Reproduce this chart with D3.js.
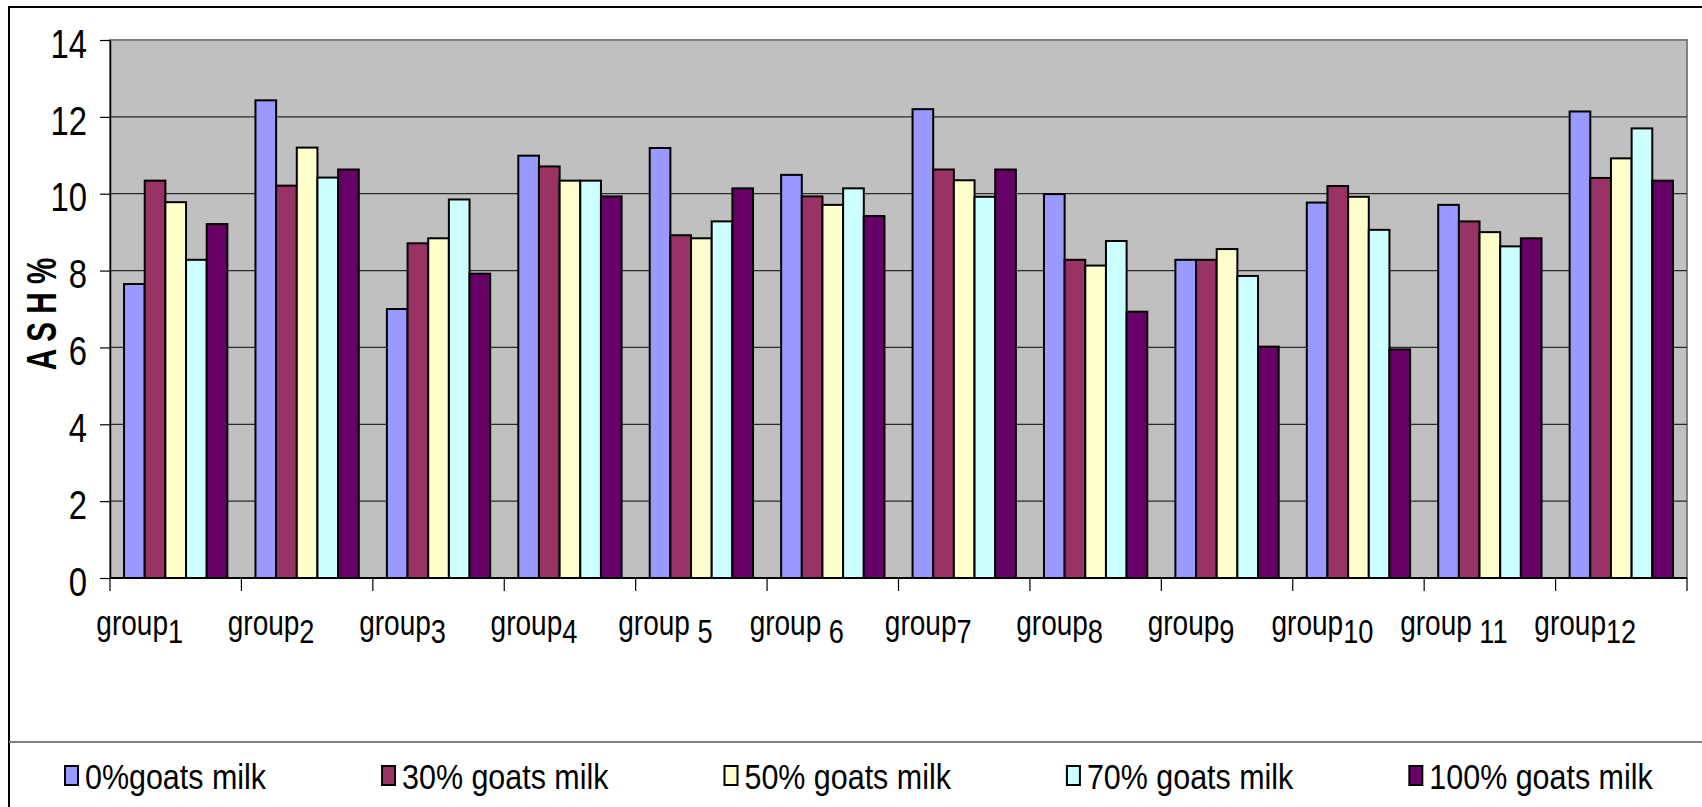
<!DOCTYPE html>
<html>
<head>
<meta charset="utf-8">
<script src="https://cdn.jsdelivr.net/npm/d3@7"></script>
<style>
  body { margin: 0; background: #fff; }
  text { font-family: "Liberation Sans", Arial, sans-serif; fill: #000; white-space: pre; }
</style>
</head>
<body>
<svg id="chart" width="1702" height="807"></svg>
<script>
// ash % by group and goats milk share

var xLabels = ["group1", "group2", "group3", "group4", "group 5", "group 6",
  "group7", "group8", "group9", "group10", "group 11", "group12"]
var series = ["0%goats milk", "30% goats milk", "50% goats milk", "70% goats milk", "100% goats milk"]
var yTicks = [0, 2, 4, 6, 8, 10, 12, 14]

var milk0 = [7.65, 12.43, 7.0, 10.99, 11.19, 10.49, 12.2, 9.99, 8.28, 9.77, 9.71, 12.14]
var milk30 = [10.34, 10.21, 8.71, 10.71, 8.92, 9.93, 10.63, 8.28, 8.28, 10.2, 9.28, 10.41]
var milk50 = [9.78, 11.2, 8.84, 10.34, 8.84, 9.71, 10.35, 8.13, 8.56, 9.92, 9.0, 10.92]
var milk70 = [8.28, 10.42, 9.85, 10.34, 9.28, 10.14, 9.92, 8.77, 7.86, 9.06, 8.63, 11.7]
var milk100 = [9.21, 10.63, 7.92, 9.93, 10.14, 9.42, 10.63, 6.93, 6.02, 5.95, 8.84, 10.34]

var values = [milk0, milk30, milk50, milk70, milk100]
var colors = ["#9999ff", "#993366", "#ffffcc", "#ccffff", "#660066"]

// narrow look of the original text
var sx = 0.8
var legendSx = 0.87

var plot = { left: 110, right: 1687, top: 40, bottom: 578 }

var svg = d3.select("#chart")

// outer frame and legend separator
svg.append("rect")
  .attr("x", 9).attr("y", 7)
  .attr("width", 1710).attr("height", 820)
  .attr("fill", "#fff").attr("stroke", "#000").attr("stroke-width", 2)

svg.append("line")
  .attr("x1", 9).attr("x2", 1702)
  .attr("y1", 742).attr("y2", 742)
  .attr("stroke", "#808080").attr("stroke-width", 2)

var x0 = d3.scaleBand()
  .domain(xLabels)
  .range([plot.left, plot.right])

var x1 = d3.scaleBand()
  .domain(d3.range(series.length))
  .range([0, x0.bandwidth()])
  .paddingOuter(0.68)

var y = d3.scaleLinear().domain([0, 14]).range([plot.bottom, plot.top])

var color = d3.scaleOrdinal().domain(d3.range(series.length)).range(colors)

// plot area
svg.append("rect")
  .attr("x", plot.left).attr("y", plot.top)
  .attr("width", plot.right - plot.left).attr("height", plot.bottom - plot.top)
  .attr("fill", "#c0c0c0").attr("stroke", "#808080").attr("stroke-width", 2)

svg.append("g").selectAll("line")
  .data(yTicks.filter(function(d) { return d > 0 && d < 14 }))
  .enter().append("line")
  .attr("x1", plot.left).attr("x2", plot.right)
  .attr("y1", function(d) { return y(d) }).attr("y2", function(d) { return y(d) })
  .attr("stroke", "#2a2a2a").attr("stroke-width", 1.2)

// bars
var groupG = svg.append("g").selectAll("g")
  .data(xLabels)
  .enter().append("g")
  .attr("transform", function(d) { return "translate(" + x0(d) + ",0)" })

groupG.selectAll("rect")
  .data(function(d, gi) {
    return values.map(function(s, si) { return { s: si, v: s[gi] } })
  })
  .enter().append("rect")
  .attr("x", function(d) { return x1(d.s) })
  .attr("width", x1.bandwidth())
  .attr("y", function(d) { return y(d.v) })
  .attr("height", function(d) { return y(0) - y(d.v) })
  .attr("fill", function(d) { return color(d.s) })
  .attr("stroke", "#000")
  .attr("stroke-width", 2)

// y axis
var yAxis = d3.axisLeft(y).tickValues(yTicks).tickSize(10).tickSizeOuter(0)
var yG = svg.append("g")
  .attr("transform", "translate(" + plot.left + ",0)")
  .call(yAxis)
yG.select(".domain").attr("stroke", "#000").attr("stroke-width", 1.5)
yG.selectAll(".tick line").attr("stroke", "#000").attr("stroke-width", 1.2)
yG.selectAll(".tick text")
  .attr("font-family", null)
  .attr("font-size", 41)
  .attr("fill", "#000")
  .attr("x", -23 / sx)
  .attr("dy", "0.42em")
  .attr("transform", "scale(" + sx + ",1)")

// x axis line and ticks at the group edges
svg.append("line")
  .attr("x1", plot.left).attr("x2", plot.right)
  .attr("y1", plot.bottom).attr("y2", plot.bottom)
  .attr("stroke", "#000").attr("stroke-width", 2)

var edges = xLabels.map(function(d) { return x0(d) }).concat([plot.right])
svg.append("g").selectAll("line")
  .data(edges)
  .enter().append("line")
  .attr("x1", function(d) { return d }).attr("x2", function(d) { return d })
  .attr("y1", plot.bottom).attr("y2", plot.bottom + 13)
  .attr("stroke", "#000").attr("stroke-width", 1.2)

// x labels: "group" with the number set a little lower
var xl = svg.append("g").selectAll("g")
  .data(xLabels)
  .enter().append("g")
  .attr("transform", function(d) {
    return "translate(" + (x0(d) + x0.bandwidth() / 2 - 36) + ",635) scale(" + sx + ",1)"
  })
  .append("text")
  .attr("text-anchor", "middle")

xl.append("tspan")
  .attr("font-size", 35)
  .text(function(d) { return d.match(/^(\D+?)\s?\d+$/)[1] })
xl.append("tspan")
  .attr("font-size", 34)
  .attr("dy", 8)
  .text(function(d) { return d.match(/^\D+?(\s?\d+)$/)[1] })

// y title
svg.append("g")
  .attr("transform", "translate(41,314) rotate(-90) scale(0.69,1)")
  .append("text")
  .attr("text-anchor", "middle")
  .attr("dy", "0.36em")
  .attr("font-size", 43)
  .attr("font-weight", "bold")
  .text("A S H %")

// legend
var legend = svg.append("g")
var lx = 65
series.forEach(function(name, i) {
  var item = legend.append("g").attr("transform", "translate(" + lx + ",766)")
  item.append("rect")
    .attr("width", 13).attr("height", 19)
    .attr("fill", color(i))
    .attr("stroke", "#000").attr("stroke-width", 2)
  var t = item.append("text")
    .attr("transform", "translate(20,23) scale(" + legendSx + ",1)")
    .attr("font-size", 35)
    .text(name)
  lx += 20 + t.node().getComputedTextLength() * legendSx + 116
})
</script>
</body>
</html>
